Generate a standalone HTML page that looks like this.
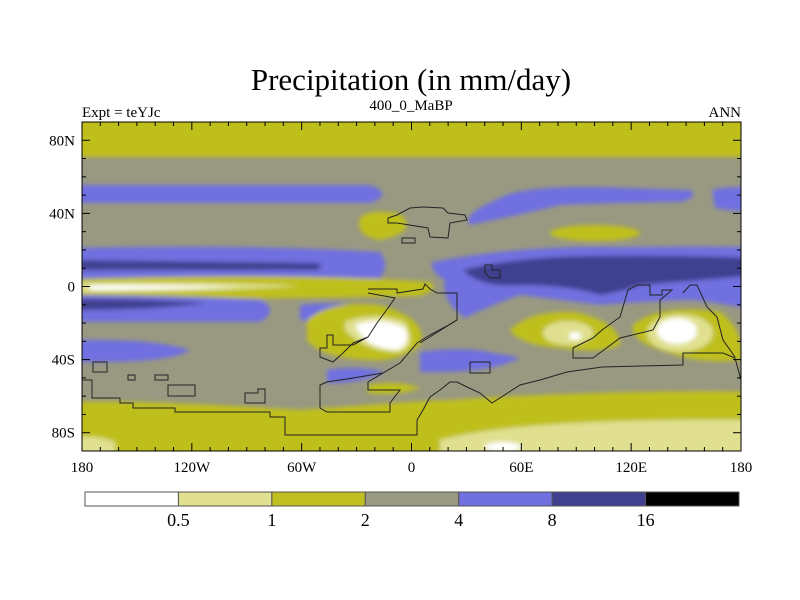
<!DOCTYPE html>
<html><head><meta charset="utf-8"><style>
body{margin:0;background:#fff;width:800px;height:600px;overflow:hidden}
svg{display:block;font-family:"Liberation Serif",serif}
</style></head><body>
<svg width="800" height="600">
<defs><clipPath id="clip"><rect x="82" y="122" width="659" height="329"/></clipPath>
<filter id="blur"><feGaussianBlur stdDeviation="2"/></filter></defs>
<text x="411" y="90" font-size="31" text-anchor="middle">Precipitation (in mm/day)</text>
<text x="82" y="117" font-size="15">Expt = teYJc</text>
<text x="411" y="110" font-size="15" text-anchor="middle">400_0_MaBP</text>
<text x="741" y="117" font-size="15" text-anchor="end">ANN</text>
<g clip-path="url(#clip)">
<rect x="82" y="122" width="659" height="329" fill="#999982"/>
<g filter="url(#blur)">
<rect x="70" y="115" width="690" height="42" fill="#bfbf1f"/>
<path d="M70 185 L370 185 Q395 194 370 203 L70 203Z" fill="#7070e0"/>
<path d="M500 198 Q520 186 600 187 L690 190 Q700 197 680 202 Q600 203 560 205 Q520 215 470 225 Q460 215 500 198Z" fill="#7070e0"/>
<path d="M712 190 Q725 186 760 187 L760 212 Q735 212 715 208Z" fill="#7070e0"/>
<path d="M360 218 Q370 208 400 214 Q420 232 380 240 Q355 236 360 218Z" fill="#bfbf1f"/>
<ellipse cx="595" cy="233" rx="45" ry="8" fill="#bfbf1f"/>
<path d="M70 248 Q250 244 380 252 Q390 265 380 278 L70 280Z" fill="#7070e0"/>
<path d="M70 260 L317 263 Q325 266 317 270 L70 270Z" fill="#404090"/>
<path d="M432 262 Q520 245 620 247 Q700 246 760 247 L760 312 Q720 302 690 300 Q640 302 600 305 Q560 300 520 295 Q480 310 465 318 Q440 300 445 280 Q430 272 432 262Z" fill="#7070e0"/>
<path d="M463 270 Q520 256 600 256 Q680 255 760 258 L760 275 Q700 280 640 285 Q620 292 600 295 Q570 285 520 285 Q480 288 463 270Z" fill="#404090"/>
<path d="M70 279 Q300 272 430 282 Q440 289 420 296 Q250 300 70 298Z" fill="#bfbf1f"/>
<path d="M80 283 Q200 281 300 286 Q200 292 80 292Z" fill="#e0e090"/>
<path d="M90 285 Q160 285 240 287 Q160 290 90 290Z" fill="#fff"/>
<path d="M70 295 Q200 296 260 300 Q280 310 260 322 L70 322Z" fill="#7070e0"/>
<path d="M70 299 Q150 299 207 303 Q150 310 70 310Z" fill="#404090"/>
<path d="M300 305 Q340 300 380 310 Q360 330 300 320Z" fill="#7070e0"/>
<path d="M70 340 Q150 338 190 350 Q170 364 70 362Z" fill="#7070e0"/>
<path d="M420 352 Q470 345 500 355 Q470 368 420 367Z" fill="#7070e0"/>
<path d="M420 352 Q480 348 520 358 Q490 374 420 372Z" fill="#7070e0"/>
<path d="M327 370 Q360 365 385 372 Q360 384 327 383Z" fill="#7070e0"/>
<path d="M307 320 Q330 300 380 305 Q430 320 420 345 Q400 362 370 360 Q320 358 307 340Z" fill="#bfbf1f"/>
<path d="M345 322 Q375 310 405 322 Q418 345 400 352 Q365 352 345 330Z" fill="#e0e090"/>
<path d="M355 325 Q380 316 405 328 Q412 346 395 350 Q365 348 355 325Z" fill="#fff"/>
<path d="M510 330 Q530 310 575 312 Q620 322 620 345 Q600 354 560 348 Q520 345 510 330Z" fill="#bfbf1f"/>
<ellipse cx="568" cy="333" rx="25" ry="12" fill="#e0e090"/>
<ellipse cx="575" cy="336" rx="6" ry="4" fill="#fff"/>
<path d="M633 325 Q660 303 720 312 Q745 330 741 360 Q700 365 660 350 Q630 340 633 325Z" fill="#bfbf1f"/>
<ellipse cx="680" cy="333" rx="33" ry="19" fill="#e0e090"/>
<ellipse cx="677" cy="331" rx="20" ry="13" fill="#fff"/>
<path d="M368 385 Q400 380 420 388 Q400 396 368 393Z" fill="#bfbf1f"/>
<path d="M70 402 Q150 400 300 410 Q400 402 450 400 Q520 395 600 393 Q700 390 760 392 L760 460 L70 460Z" fill="#bfbf1f"/>
<path d="M440 440 Q520 418 760 420 L760 460 L440 460Z" fill="#e0e090"/>
<ellipse cx="503" cy="447" rx="18" ry="5" fill="#fff"/>
<path d="M70 438 Q95 434 115 442 L115 460 L70 460Z" fill="#e0e090"/>
</g>
<g fill="none" stroke="#222" stroke-width="1">
<path d="M82 380 L92 380 L92 398 L120 398 L120 403 L133 403 L133 408 L175 408 L175 412 L270 412 L270 417 L285 417 L285 435 L417 435 L417 420 L423 410 L430 397 L440 390 L450 382 L457 382 L467 387 L480 393 L492 403 L520 385 L540 380 L567 372 L602 367 L683 365 L683 353 L723 353 L735 358 L741 380"/>
<path d="M368 289 L397 289 L397 293 L423 289 L425 284 L430 289 L437 293 L457 293 L457 320 L445 327 L430 335 L417 343 L400 363 L383 373 L353 378 L327 382 L320 385 L320 408 L327 412 L390 412 L390 403 L400 390 L368 390 L368 382 L383 373"/>
<path d="M368 293 L395 298 L388 308 L377 323 L368 337 L353 343 L343 353 L333 362 L320 357 L320 348 L327 348 L327 335 L333 335 L333 345 L353 345 L368 337"/>
<path d="M457 320 L420 343 M573 348 L593 338 L602 330 L620 317 L628 290 L637 285 L650 285 L650 295 L662 295 L662 290 L672 290 L660 300 L660 317 L653 330 L620 338 L593 358 L573 358Z"/>
<path d="M683 293 L690 285 L697 285 L707 307 L717 317 L723 340 L735 357"/>
<path d="M388 223 L388 218 L397 215 L410 208 L423 207 L443 208 L448 213 L465 215 L467 220 L450 223 L448 238 L430 237 L428 228 L397 223Z M402 238 L415 238 L415 243 L402 243Z"/>
<path d="M485 265 L492 265 L492 270 L500 270 L500 278 L490 278 L485 273Z"/>
<path d="M93 362 L107 362 L107 372 L93 372Z M128 375 L135 375 L135 380 L128 380Z M155 375 L168 375 L168 380 L155 380Z M168 385 L195 385 L195 396 L168 396Z M245 393 L258 393 L258 389 L265 389 L265 403 L245 403Z M470 362 L490 362 L490 373 L470 373Z"/>
</g>
</g>
<rect x="82" y="122" width="659" height="329" fill="none" stroke="#000" stroke-width="1"/>
<g id="axes" font-size="15"></g>
<g id="cbar"></g>
</svg>
<script>
const levels=["0.5","1","2","4","8","16"];
const colors=["#ffffff","#e0e090","#bfbf1f","#999982","#7070e0","#404090","#000000"];
const lonTicks=[-180,-120,-60,0,60,120,180];
const lonLabels=["180","120W","60W","0","60E","120E","180"];
const latTicks=[80,40,0,-40,-80];
const latLabels=["80N","40N","0","40S","80S"];
const NS="http://www.w3.org/2000/svg";
const X=l=>82+(l+180)*659/360, Y=l=>286.5-l*1.8278;
function mk(t,a,p){const e=document.createElementNS(NS,t);for(const k in a)e.setAttribute(k,a[k]);p.appendChild(e);return e;}
const ax=document.getElementById('axes');
for(let l=-180;l<=180;l+=10){const big=l%60===0,x=X(l);
 const t1=mk('line',{x1:x,x2:x,y1:122,y2:122+(big?8:4),stroke:'#000'},ax);
 
 const t2=mk('line',{x1:x,x2:x,y1:451,y2:451-(big?8:4),stroke:'#000'},ax);
 }
for(let l=-90;l<=90;l+=10){const big=l%40===0,y=Y(l);
 const t1=mk('line',{x1:82,x2:82+(big?8:4),y1:y,y2:y,stroke:'#000'},ax);
 
 const t2=mk('line',{x1:741,x2:741-(big?8:4),y1:y,y2:y,stroke:'#000'},ax);
 }
lonTicks.forEach((l,i)=>{const t=mk('text',{x:X(l),y:472,'text-anchor':'middle'},ax);t.textContent=lonLabels[i];
 });
latTicks.forEach((l,i)=>{const t=mk('text',{x:75,y:Y(l)+5,'text-anchor':'end'},ax);t.textContent=latLabels[i];
 });
const cb=document.getElementById('cbar');const x0=85,w=(739-85)/colors.length;
colors.forEach((c,i)=>{const r=mk('rect',{x:x0+i*w,y:492,width:w,height:14,fill:c,stroke:'#555','stroke-width':1},cb);
 });
levels.forEach((v,i)=>{const t=mk('text',{x:x0+(i+1)*w,y:526,'text-anchor':'middle','font-size':18},cb);t.textContent=v;
 });
</script>
</body></html>
